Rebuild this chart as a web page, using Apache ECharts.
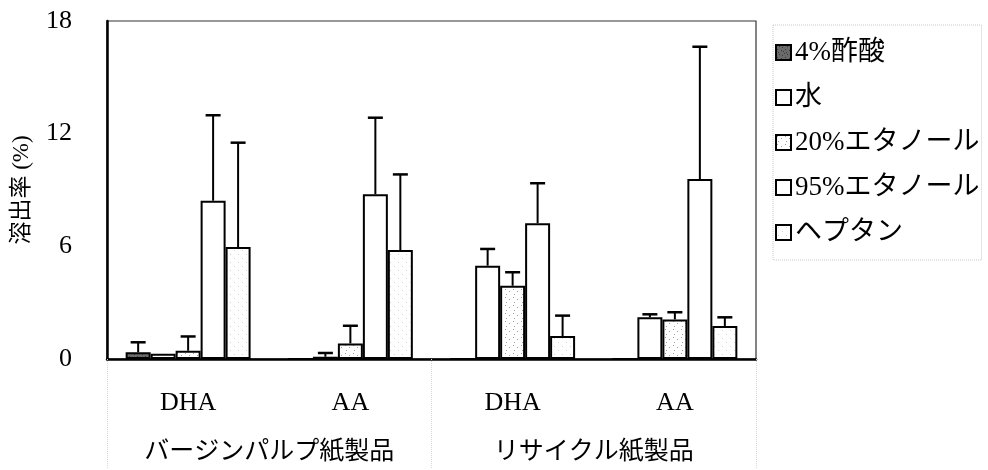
<!DOCTYPE html>
<html>
<head>
<meta charset="utf-8">
<script src="https://cdn.jsdelivr.net/npm/echarts@6/dist/echarts.min.js"></script>
<style>
	html, body { margin: 0; padding: 0; background: #fff; }
	#chart { width: 988px; height: 470px; }
</style>
</head>
<body>
<div id="chart"></div>
<script>
	var categories = ['DHA', 'AA', 'DHA', 'AA'];
	var groups = ['バージンパルプ紙製品', 'リサイクル紙製品'];
	var seriesNames = ['4%酢酸', '水', '20%エタノール', '95%エタノール', 'ヘプタン'];
	var yTicks = [0, 6, 12, 18];

	/* 溶出率の平均値 */
	var aceticVals = [0.36, 0, 0, 0];
	var waterVals = [0.28, 0.12, 4.97, 2.22];
	var eth20Vals = [0.44, 0.83, 3.90, 2.11];
	var eth95Vals = [8.43, 8.77, 7.23, 9.58];
	var heptaneVals = [5.96, 5.80, 1.22, 1.76];

	/* 標準偏差(上側のみ) */
	var aceticErr = [0.53, 0, 0, 0];
	var waterErr = [0, 0.20, 0.89, 0.16];
	var eth20Err = [0.76, 0.94, 0.72, 0.38];
	var eth95Err = [4.55, 4.08, 2.13, 7.05];
	var heptaneErr = [5.56, 4.03, 1.09, 0.46];

	var allVals = [aceticVals, waterVals, eth20Vals, eth95Vals, heptaneVals];
	var allErr = [aceticErr, waterErr, eth20Err, eth95Err, heptaneErr];

	var serif = "'Liberation Serif', 'Noto Sans CJK JP', serif";
	var catGap = 0.23;

	// 塗りつぶし用のパターン
	function makePattern(bg, dot, dots) {
		var c = document.createElement('canvas');
		c.width = 8;
		c.height = 8;
		var ctx = c.getContext('2d');
		ctx.fillStyle = bg;
		ctx.fillRect(0, 0, 8, 8);
		ctx.fillStyle = dot;
		for (var i = 0; i < dots.length; i++) {
			ctx.fillRect(dots[i][0], dots[i][1], 1, 1);
		}
		return { image: c, repeat: 'repeat' };
	}
	var fills = [
		makePattern('#6a6a6a', '#3a3a3a', [[0, 0], [3, 1], [6, 2], [1, 4], [5, 5], [2, 7], [7, 6]]),
		'#ffffff',
		makePattern('#ffffff', '#a0a0a0', [[1, 1], [5, 3], [2, 6]]),
		'#ffffff',
		makePattern('#ffffff', '#d4d4d4', [[2, 2], [6, 6]])
	];

	function createErrRender(idx) {
		return function(params, api) {
			var x = api.value(0), v = api.value(1), e = api.value(2);
			if (!e) return;
			var base = api.coord([x, v]);
			var top = api.coord([x, v + e]);
			var band = api.size([1, 0])[0];
			var bw = band * (1 - catGap) / 5;
			var cx = base[0] + (idx - 2) * bw;
			return {
				type: 'group',
				children: [{
					type: 'line',
					shape: { x1: cx, y1: base[1], x2: cx, y2: top[1] },
					style: { stroke: '#000', lineWidth: 2 }
				}, {
					type: 'line',
					shape: { x1: cx - 7.5, y1: top[1], x2: cx + 7.5, y2: top[1] },
					style: { stroke: '#000', lineWidth: 2.5 }
				}]
			};
		};
	}

	var series = [];
	for (var i = 0; i < seriesNames.length; i++) {
		series.push({
			name: seriesNames[i],
			type: 'bar',
			barGap: '0%',
			barCategoryGap: (catGap * 100) + '%',
			itemStyle: {
				color: fills[i],
				borderColor: '#000',
				borderWidth: 2
			},
			data: allVals[i]
		});
	}
	for (var j = 0; j < seriesNames.length; j++) {
		var errData = [];
		for (var k = 0; k < categories.length; k++) {
			errData.push([k, allVals[j][k], allErr[j][k]]);
		}
		series.push({
			type: 'custom',
			renderItem: createErrRender(j),
			encode: { x: 0, y: 1 },
			z: 5,
			silent: true,
			data: errData
		});
	}

	var option = {
		backgroundColor: '#fff',
		animation: false,
		textStyle: { fontFamily: serif },
		grid: {
			left: 107,
			right: 232,
			top: 21,
			bottom: 111,
			show: true,
			borderColor: '#333',
			borderWidth: 1.2
		},
		legend: {
			orient: 'vertical',
			left: 773,
			top: 25,
			padding: [14, 2, 14, 2],
			itemGap: 18,
			itemWidth: 15,
			itemHeight: 15,
			icon: 'rect',
			borderColor: '#c8c8c8',
			borderWidth: 1,
			borderType: 'dotted',
			data: seriesNames,
			textStyle: {
				fontFamily: serif,
				fontSize: 27,
				color: '#000',
				padding: [0, 0, 0, -1]
			}
		},
		xAxis: [{
			type: 'category',
			data: categories,
			axisLine: { lineStyle: { color: '#000', width: 2.5 } },
			axisTick: { show: false },
			axisLabel: { color: '#000', fontSize: 26, margin: 31, interval: 0, fontFamily: serif }
		}, {
			type: 'category',
			position: 'bottom',
			data: groups,
			axisLine: { show: false },
			axisTick: {
				show: true,
				length: 110,
				interval: 0,
				lineStyle: { color: '#d8d8d8', type: 'dotted', width: 1 }
			},
			axisLabel: { color: '#000', fontSize: 25, margin: 81, interval: 0, fontFamily: serif }
		}],
		yAxis: {
			type: 'value',
			min: yTicks[0],
			max: yTicks[yTicks.length - 1],
			interval: 6,
			name: '溶出率 (%)',
			nameLocation: 'middle',
			nameRotate: 90,
			nameGap: 74,
			nameTextStyle: { color: '#000', fontSize: 23, fontFamily: serif },
			axisLine: { show: true, lineStyle: { color: '#000', width: 2.5 } },
			axisTick: { show: false },
			splitLine: { show: false },
			axisLabel: { color: '#000', fontSize: 26, margin: 35, fontFamily: serif }
		},
		series: series
	};

	var chart = echarts.init(document.getElementById('chart'));
	chart.setOption(option);
</script>
</body>
</html>
